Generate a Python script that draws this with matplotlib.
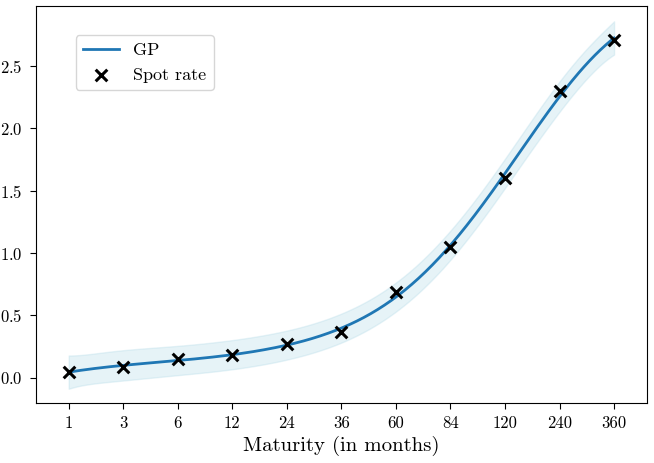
import numpy as np
import matplotlib
matplotlib.use('Agg')
import matplotlib.pyplot as plt

plt.rcParams['font.family'] = 'serif'
plt.rcParams['font.serif'] = ['cmr10', 'DejaVu Serif']
plt.rcParams['mathtext.fontset'] = 'cm'
plt.rcParams['axes.formatter.use_mathtext'] = True

maturities = ['1', '3', '6', '12', '24', '36', '60', '84', '120', '240', '360']
spot_rates = [0.05, 0.09, 0.15, 0.18, 0.27, 0.37, 0.69, 1.05, 1.60, 2.30, 2.71]

# GP regression: RBF kernel plus a linear kernel, on the maturity index
def kern(a, b, ell=2.8, sf=1.0, sl=0.25):
    rbf = sf ** 2 * np.exp(-0.5 * (a[:, None] - b[None, :]) ** 2 / ell ** 2)
    lin = sl ** 2 * (a[:, None] - 5) * (b[None, :] - 5)
    return rbf + lin

x_train = np.arange(len(maturities), dtype=float)
y_train = np.array(spot_rates)
noise = 0.048
y_mean = y_train.mean()

K = kern(x_train, x_train) + noise ** 2 * np.eye(len(x_train))
x_test = np.linspace(0, len(maturities) - 1, 400)
Ks = kern(x_test, x_train)
alpha = np.linalg.solve(K, y_train - y_mean)
mu = Ks @ alpha + y_mean
v = np.linalg.solve(K, Ks.T)
var = np.diag(kern(x_test, x_test)) - np.sum(Ks * v.T, axis=1) + noise ** 2
sd = np.sqrt(np.maximum(var, 0))

fig, ax = plt.subplots(figsize=(6.54, 4.63), dpi=100)
fig.subplots_adjust(left=0.055, right=0.989, top=0.987, bottom=0.13)

ax.fill_between(x_test, mu - 2 * sd, mu + 2 * sd, color='lightblue', alpha=0.3)
ax.plot(x_test, mu, color='#1f77b4', lw=2, label='GP')
ax.scatter(x_train, y_train, marker='x', color='black', s=70, linewidths=2.2, zorder=3, label='Spot rate')

ax.set_xticks(x_train)
ax.set_xticklabels(maturities)
ax.set_xlim(-0.6, 10.6)
ax.set_ylim(-0.2, 2.98)
ax.set_xlabel('Maturity (in months)', fontsize=15, labelpad=3)
ax.tick_params(labelsize=12, length=4.5, pad=5)
ax.legend(loc='upper left', bbox_to_anchor=(0.065, 0.927), borderaxespad=0, fontsize=13)

plt.savefig('out.png', dpi=100)
